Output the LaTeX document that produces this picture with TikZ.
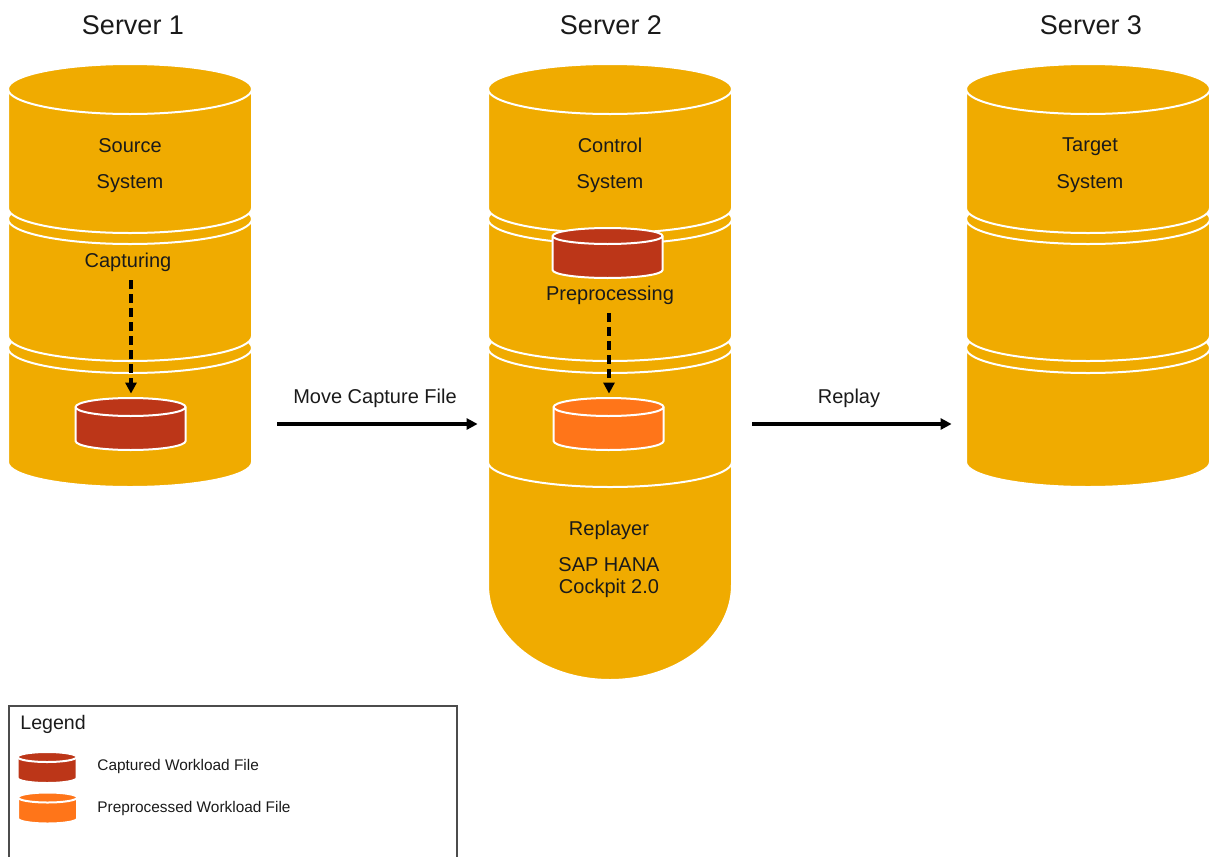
\documentclass[tikz,border=0pt]{standalone}
\usepackage{fontspec}
\setmainfont{Liberation Sans}
\usepackage{tikz}
\usetikzlibrary{arrows.meta,calc}

\definecolor{dbgold}{HTML}{F0AB00}
\definecolor{capred}{HTML}{BC3618}
\definecolor{preorange}{HTML}{FF7519}
\definecolor{inkgray}{HTML}{1A1A1A}

\begin{document}
\begin{tikzpicture}[
  x=0.5pt, y=-0.5pt,
  seg/.style={fill=dbgold, draw=white, line width=1pt},
  rim/.style={draw=white, line width=1pt},
  srvframe/.style={inner sep=0pt, minimum width=122pt, minimum height=212pt},
  filebox/.style={inner sep=0pt, minimum width=55pt, minimum height=26pt},
  keybox/.style={inner sep=0pt, minimum width=29.5pt, minimum height=15.5pt},
  srvtitle/.style={anchor=base, text=inkgray, font=\fontsize{13.5}{16}\selectfont},
  txt/.style={anchor=base, text=inkgray, font=\fontsize{10}{12}\selectfont},
  flowtxt/.style={text=inkgray, font=\fontsize{10}{12}\selectfont},
  keytext/.style={anchor=base west, inner sep=0pt, text=inkgray, font=\fontsize{7.7}{9}\selectfont},
  arrow/.style={-{Triangle[length=5.5pt, width=5.5pt]}, line width=1.7pt},
  dasharrow/.style={arrow, dash pattern=on 4.5pt off 2.5pt}
]
\useasboundingbox (0,0) rectangle (1211,857);

% server frames
\node[srvframe] (srv1) at (130,275) {};
\node[srvframe] (srv2) at (610,275) {};
\node[srvframe] (srv3) at (1088,275) {};

% rounded foot of server 2
\filldraw[seg] (488,463) -- (488,585) arc[start angle=180, end angle=0, x radius=122, y radius=95]
  -- (732,463) arc[start angle=0, end angle=-180, x radius=122, y radius=25] -- cycle;

% stacked cylinder segments, bottom one first
\foreach \cx in {130,610,1088}
  \foreach \yt/\yb in {348/462, 219/336, 89/208} {
    \filldraw[seg] (\cx-122,\yt) -- (\cx-122,\yb)
      arc[start angle=180, end angle=0, x radius=122, y radius=25] -- (\cx+122,\yt)
      arc[start angle=0, end angle=-180, x radius=122, y radius=25] -- cycle;
    \draw[rim] (\cx-122,\yt) arc[start angle=180, end angle=0, x radius=122, y radius=25];
  }

% workload files
\node[filebox] (cap1) at (131,424) {};
\node[filebox] (cap2) at (608,253) {};
\node[filebox] (pre2) at (609,424) {};
\node[keybox] (key1) at (47.5,767.5) {};
\node[keybox] (key2) at (48,808) {};

\foreach \n/\col/\rx/\ry/\h in {cap1/capred/55/9/34, cap2/capred/55/8/34, pre2/preorange/55/9/34,
                                 key1/capred/29.5/5/21, key2/preorange/29.5/5/21} {
  \filldraw[fill=\col, rim] (\n.west) ++(0,-\h/2) -- ++(0,\h)
    arc[start angle=180, end angle=0, x radius=\rx, y radius=\ry] -- ++(0,-\h)
    arc[start angle=0, end angle=-180, x radius=\rx, y radius=\ry] -- cycle;
  \draw[rim] (\n.west) ++(0,-\h/2) arc[start angle=180, end angle=0, x radius=\rx, y radius=\ry];
}

% titles
\node[srvtitle] (ttl1) at (133,34) {Server 1};
\node[srvtitle] (ttl2) at (611,34) {Server 2};
\node[srvtitle] (ttl3) at (1091,34) {Server 3};

% texts in the servers
\node[txt] (src) at (130,152) {Source};
\node[txt] (srcsys) at (130,188) {System};
\node[txt] (capt) at (128,267) {Capturing};
\node[txt] (ctl) at (610,152) {Control};
\node[txt] (ctlsys) at (610,188) {System};
\node[txt] (prep) at (610,300) {Preprocessing};
\node[txt] (tgt) at (1090,151) {Target};
\node[txt] (tgtsys) at (1090,188) {System};
\node[txt] (rply) at (609,535) {Replayer};
\node[txt] (hana) at (609,571) {SAP HANA};
\node[txt] (ckpt) at (609,593) {Cockpit 2.0};

\draw[dasharrow, shorten <=1pt, shorten >=2pt] (capt.south -| cap1) -- (cap1.north);
\draw[dasharrow, shorten <=1pt, shorten >=2pt] (prep.south -| pre2) -- (pre2.north);

\draw[arrow, shorten <=12.5pt, shorten >=5pt] (srv1.east |- cap1) --
  node[flowtxt, above=4pt, xshift=2.5pt] (mvlbl) {Move Capture File} (srv2.west |- cap1);
\draw[arrow, shorten <=10pt, shorten >=7pt] (srv2.east |- pre2) --
  node[flowtxt, above=4pt] (rplbl) {Replay} (srv3.west |- pre2);

% legend
\draw[draw=black!70, line width=0.75pt] (9,857) |- (457,706) -- (457,857);
\node[anchor=base west, inner sep=0pt, text=inkgray, font=\fontsize{9.8}{12}\selectfont] (lgd) at (20,729) {Legend};
\node[keytext] (keycap) at (97,770) {Captured Workload File};
\node[keytext] (keypre) at (97,812) {Preprocessed Workload File};
\end{tikzpicture}
\end{document}
